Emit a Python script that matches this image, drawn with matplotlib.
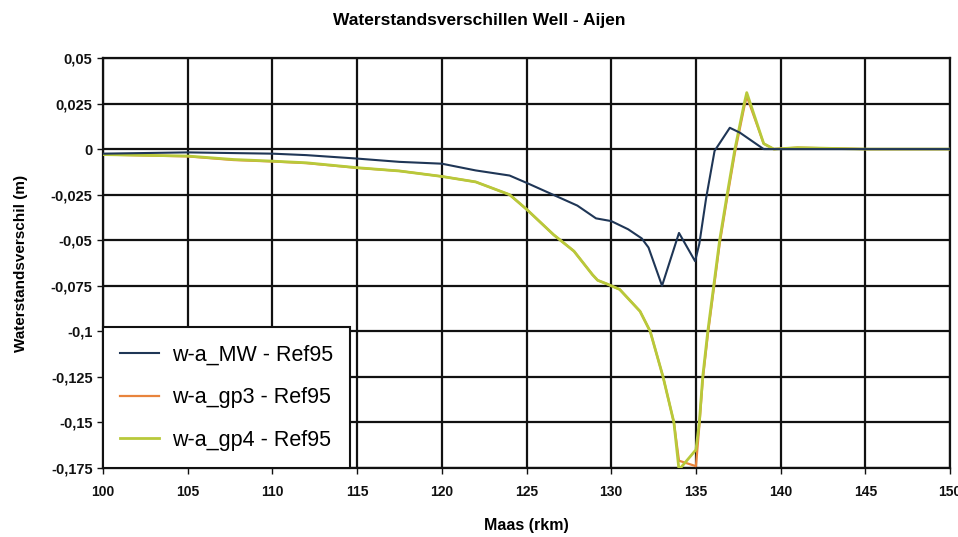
import numpy as np
import matplotlib.pyplot as plt

plt.rcParams['font.family'] = ['Liberation Sans', 'DejaVu Sans']

# w-a_MW - Ref95
mw_x = [100, 105, 110, 112, 115, 117.5, 120, 122, 124, 125, 126.8, 128, 129.1, 130,
        131, 131.8, 132.2, 133, 134, 134.95, 135.2, 135.6, 136.1, 137, 137.6, 139,
        140, 145, 150]
mw_y = [-0.0025, -0.0018, -0.0025, -0.0033, -0.0052, -0.007, -0.008, -0.0117, -0.0145,
        -0.0185, -0.026, -0.031, -0.038, -0.0395, -0.044, -0.049, -0.054, -0.075,
        -0.046, -0.0615, -0.052, -0.027, -0.001, 0.0117, 0.009, 0.0, 0.0, 0.0, 0.0]

# w-a_gp3 / w-a_gp4 - Ref95
gp_x = [100, 105, 107.7, 110, 112, 115, 117.5, 120, 122, 124, 125, 126.6, 127.8, 128.9,
        129.2, 129.75, 130.5, 131.7, 132.3, 133.06, 133.7, 134, 135, 135.2, 135.4,
        135.7, 136.05, 136.4, 136.84, 137.3, 137.85, 138, 139, 139.6, 141, 145, 150]
gp3_y = [-0.003, -0.004, -0.006, -0.0068, -0.0077, -0.0103, -0.012, -0.015, -0.018,
         -0.025, -0.033, -0.047, -0.056, -0.069, -0.072, -0.074, -0.077, -0.089, -0.1,
         -0.125, -0.15, -0.171, -0.174, -0.152, -0.127, -0.102, -0.077, -0.052, -0.027,
         -0.002, 0.023, 0.029, 0.003, 0.0, 0.0008, 0.0, 0.0]
gp4_y = [-0.003, -0.0038, -0.0057, -0.0066, -0.0075, -0.0102, -0.012, -0.015, -0.018,
         -0.025, -0.033, -0.047, -0.056, -0.069, -0.072, -0.074, -0.077, -0.089, -0.1,
         -0.125, -0.15, -0.176, -0.165, -0.15, -0.125, -0.1, -0.075, -0.05, -0.025,
         0.0, 0.025, 0.031, 0.003, 0.0, 0.0008, 0.0, 0.0]

x_ticks = [100, 105, 110, 115, 120, 125, 130, 135, 140, 145, 150]
y_ticks = [0.05, 0.025, 0, -0.025, -0.05, -0.075, -0.1, -0.125, -0.15, -0.175]
y_labels = ['0,05', '0,025', '0', '-0,025', '-0,05', '-0,075', '-0,1', '-0,125', '-0,15', '-0,175']

fig = plt.figure(figsize=(9.58, 5.37), dpi=100)
ax = fig.add_axes([0.1075, 0.1285, 0.8842, 0.7635])

ax.plot(gp_x, gp3_y, color='#e8843c', lw=1.6, label='w-a_gp3 - Ref95', zorder=3)
ax.plot(gp_x, gp4_y, color='#b8c93a', lw=2.0, label='w-a_gp4 - Ref95', zorder=3)
ax.plot(mw_x, mw_y, color='#1f3656', lw=1.5, label='w-a_MW - Ref95', zorder=4)

ax.set_xlim(100, 150)
ax.set_ylim(-0.175, 0.05)
ax.set_xticks(x_ticks)
ax.set_yticks(y_ticks)
ax.set_yticklabels(y_labels)
ax.grid(True, color='#111111', lw=1.6, zorder=1)
ax.set_axisbelow(True)
for s in ax.spines.values():
    s.set_color('#111111')
    s.set_linewidth(1.6)
ax.tick_params(direction='out', length=4, width=1, colors='#111111')
ax.tick_params(axis='x', pad=8)
for lab in ax.get_xticklabels():
    lab.set_fontsize(10)
    lab.set_fontweight('bold')
for lab in ax.get_yticklabels():
    lab.set_fontsize(10.5)
    lab.set_fontweight('bold')

ax.set_xlabel('Maas (rkm)', fontsize=11.5, fontweight='bold', labelpad=14)
ax.set_ylabel('Waterstandsverschil (m)', fontsize=11, fontweight='bold', labelpad=16)
fig.text(0.5, 0.962, 'Waterstandsverschillen Well - Aijen', ha='center', va='center',
         fontsize=12.5, fontweight='bold')

h, l = ax.get_legend_handles_labels()
order = [2, 0, 1]
leg = ax.legend([h[i] for i in order], [l[i] for i in order], loc='lower left',
                bbox_to_anchor=(0, 0), borderaxespad=0, fancybox=False, framealpha=1,
                edgecolor='#111111', fontsize=15.5, labelspacing=1.0, handlelength=1.8,
                borderpad=0.8, handletextpad=0.6)
leg.get_frame().set_linewidth(1.5)
leg.set_zorder(6)

fig.savefig('out.png', dpi=100)
